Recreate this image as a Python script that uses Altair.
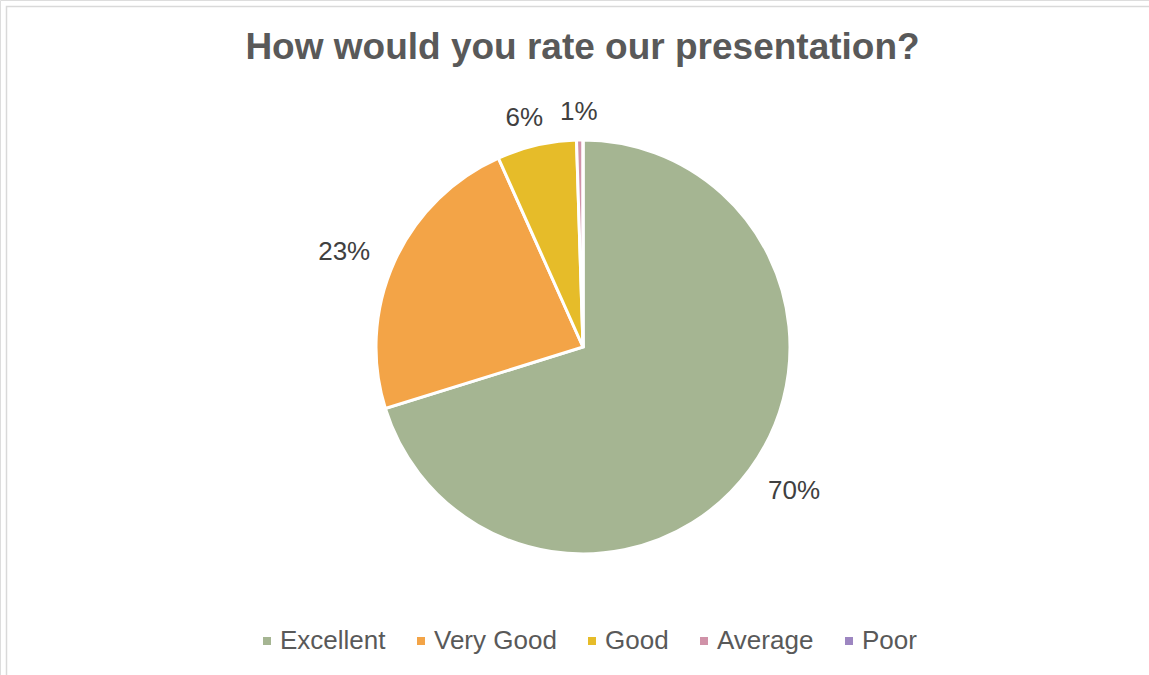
import altair as alt
import pandas as pd

categories = ["Excellent", "Very Good", "Good", "Average", "Poor"]
shares = [70.2, 23.1, 6.2, 0.5, 0.0]
labels = ["70%", "23%", "6%", "1%", ""]
colors = ["#A5B592", "#F3A447", "#E6BC29", "#D092A8", "#9D86C1"]

df = pd.DataFrame({
    "category": categories,
    "share": shares,
    "label": labels,
    "idx": list(range(len(categories))),
})

FONT = "Liberation Sans"
CX, CY = 583, 347

frame = alt.Chart(pd.DataFrame({"a": [0]})).mark_rect(
    fill="white", stroke="#D9D9D9", strokeWidth=1.5
).encode(
    x=alt.value(6.5), x2=alt.value(1170), y=alt.value(6.5), y2=alt.value(700)
)

arcs = alt.Chart(df).mark_arc(outerRadius=207, stroke="white", strokeWidth=3).encode(
    theta=alt.Theta("share:Q", stack=True),
    order=alt.Order("idx:Q"),
    x=alt.value(CX),
    y=alt.value(CY),
    color=alt.Color(
        "category:N",
        scale=alt.Scale(domain=categories, range=colors),
        legend=alt.Legend(
            title=None,
            orient="none",
            legendX=254,
            legendY=628,
            direction="horizontal",
            symbolType="square",
            symbolSize=64,
            symbolStrokeWidth=0,
            labelFont=FONT,
            labelFontSize=26,
            labelColor="#595959",
            labelOffset=0,
            columnPadding=22,
        ),
    ),
)

texts = alt.Chart(df).transform_window(
    cum="sum(share)", sort=[alt.SortField("idx", order="ascending")], frame=[None, 0]
).transform_joinaggregate(
    total="sum(share)"
).transform_calculate(
    mid="(datum.cum - datum.share / 2) / datum.total * 2 * PI"
).transform_calculate(
    lx=f"{CX} + 262 * sin(datum.mid)",
    ly=f"{CY + 3} - 238 * cos(datum.mid)",
).mark_text(font=FONT, fontSize=26, color="#404040").encode(
    x=alt.X("lx:Q", scale=None),
    y=alt.Y("ly:Q", scale=None),
    text="label:N",
)

chart = alt.layer(frame, arcs, texts).properties(
    width=1149,
    height=675,
    autosize=alt.AutoSizeParams(type="none"),
    padding=0,
    title=alt.Title(
        "How would you rate our presentation?",
        font=FONT,
        fontSize=37,
        fontWeight="bold",
        color="#595959",
        anchor="middle",
        frame="group",
        offset=-67,
        dx=8,
    ),
).configure_view(stroke=None).configure(background="white")

chart.save("out.html", embed_options={"renderer": "svg", "actions": False})
